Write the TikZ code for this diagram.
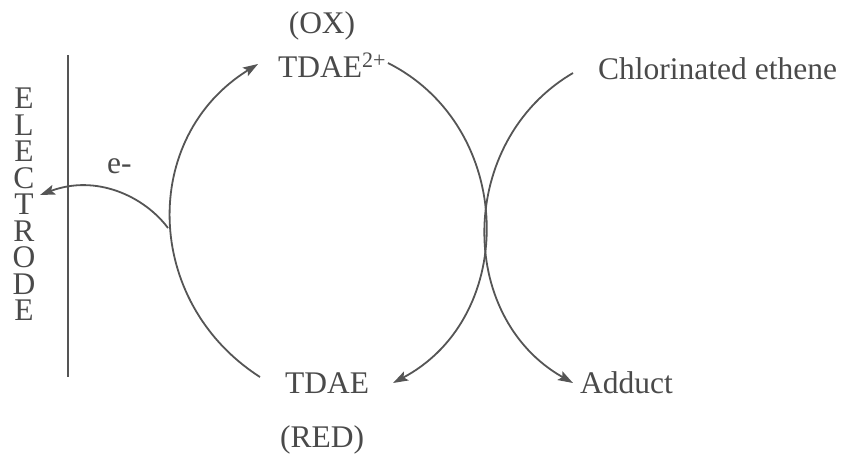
\documentclass[tikz,border=0pt]{standalone}
\usepackage{fontspec}
\setmainfont{Liberation Serif}
\usetikzlibrary{arrows.meta}
\definecolor{ink}{HTML}{4A4A4A}
\definecolor{linec}{HTML}{555555}
\begin{document}
\begin{tikzpicture}[x=1pt,y=-1pt,
  lbl/.style={inner sep=0pt,text=ink,font=\fontsize{31.5}{36}\selectfont},
  conn/.style={draw=linec,line width=1.8pt},
  arr/.style={conn,-{Stealth[length=15pt,width=10pt,inset=3pt]}}]
\useasboundingbox (0,0) rectangle (845,458);
% texts
\node[lbl,anchor=base] (ox) at (322,33) {(OX)};
\node[lbl,anchor=base west] (tdaeox) at (278,77) {TDAE\textsuperscript{2+}};
\node[lbl,anchor=base west] (tdae) at (285,393) {TDAE};
\node[lbl,anchor=base west] (red) at (280,447) {(RED)};
\node[lbl,anchor=base west] (chl) at (598,79) {Chlorinated ethene};
\node[lbl,anchor=base west] (adduct) at (580,393) {Adduct};
\node[lbl,anchor=base west] (em) at (107,173) {e-};
\node[lbl,anchor=north,align=center,font=\fontsize{31.5}{26.5}\selectfont] (elec) at (24,88) {E\\L\\E\\C\\T\\R\\O\\D\\E};
% coordinates
\coordinate (etop) at (68,55);
\coordinate (ebot) at (68,377);
\coordinate (lbot) at (260,377);
\coordinate (ltop) at (258,64);
\coordinate (rtop) at (388,63);
\coordinate (rbot) at (393,383);
\coordinate (cstart) at (573,73);
\coordinate (cend) at (573,383);
\coordinate (estart) at (168,228);
\coordinate (eend) at (40,195);
% electrode
\draw[conn] (etop) -- (ebot);
% cycle
\draw[arr] (lbot) .. controls (143,302) and (140,137) .. (ltop);
\draw[arr] (rtop) .. controls (515,127) and (519,316) .. (rbot);
\draw[arr] (cstart) .. controls (457,141) and (456,317) .. (cend);
\draw[arr] (estart) .. controls (144,196) and (96,174) .. (eend);
\end{tikzpicture}
\end{document}
